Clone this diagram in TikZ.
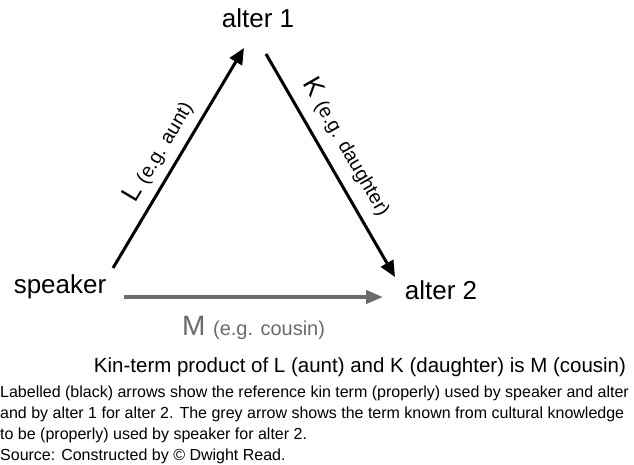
\documentclass[tikz,border=0pt]{standalone}
\usepackage{fontspec}
\setmainfont{Liberation Sans}
\usetikzlibrary{arrows.meta}
\definecolor{termgrey}{HTML}{6A6A6A}
\begin{document}
\begin{tikzpicture}[x=1pt,y=1pt,
  kinterm/.style={font=\fontsize{26}{30}\selectfont, inner sep=0pt},
  kinarrow/.style={line width=3pt, -{Triangle[length=16pt,width=14pt]}},
  greyarrow/.style={line width=4pt, termgrey, -{Triangle[length=17pt,width=13pt]}},
  notetext/.style={anchor=west, inner sep=0pt, font=\fontsize{16}{19}\selectfont}]

  \useasboundingbox (0,0) rectangle (634,464);
  \clip (0,0) rectangle (634,464);

  % kin positions
  \node[kinterm] (alterone) at (258,446) {alter 1};
  \node[kinterm] (speaker) at (60,177) {speaker};
  \node[kinterm] (altertwo) at (441,174) {alter 2};

  \coordinate (lstart) at (113,196);
  \coordinate (ltip) at (244,416);
  \coordinate (kstart) at (266,410);
  \coordinate (ktip) at (395,187);
  \coordinate (mstart) at (124,167);
  \coordinate (mtip) at (383,167);

  % labelled arrows
  \draw[kinarrow] (lstart) -- (ltip)
    node[pos=0.48, sloped, above=8pt, inner sep=0pt] {\fontsize{26}{30}\selectfont L \fontsize{19.5}{23}\selectfont(e.g. aunt)};
  \draw[kinarrow] (kstart) -- (ktip)
    node[pos=0.47, sloped, above=11pt, inner sep=0pt] {\fontsize{26}{30}\selectfont K \fontsize{19.5}{23}\selectfont(e.g. daughter)};

  % grey arrow
  \draw[greyarrow] (mstart) -- (mtip)
    node[pos=0.5, below=17pt, inner sep=0pt, termgrey] {\fontsize{28}{32}\selectfont M \fontsize{20}{24}\selectfont(e.g. cousin)};

  % caption and notes
  \node[font=\fontsize{20.5}{24}\selectfont] (caption) at (360,97)
    {Kin-term product of L (aunt) and K (daughter) is M (cousin)};
  \node[notetext] (noteone) at (0,71)
    {Labelled (black) arrows show the reference kin term (properly) used by speaker and alter 1};
  \node[notetext] (notetwo) at (0,50)
    {and by alter 1 for alter 2. The grey arrow shows the term known from cultural knowledge};
  \node[notetext] (notethree) at (0,29)
    {to be (properly) used by speaker for alter 2.};
  \node[notetext] (source) at (0,8)
    {Source: Constructed by © Dwight Read.};
\end{tikzpicture}
\end{document}
